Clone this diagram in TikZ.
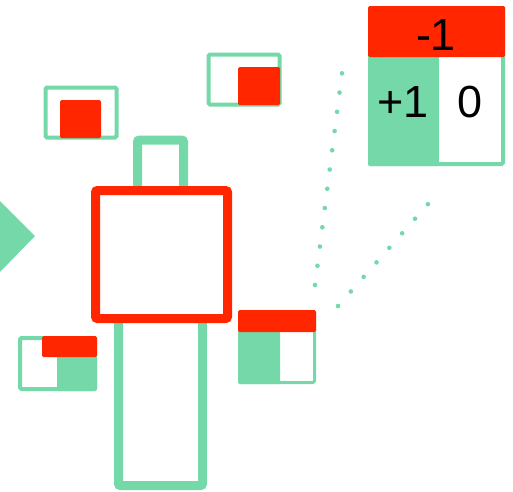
\documentclass[tikz,border=0pt]{standalone}
\usepackage{fontspec}
\setmainfont{Liberation Sans}
\definecolor{mint}{RGB}{116,216,168}
\definecolor{hot}{RGB}{255,38,0}
\begin{document}
\begin{tikzpicture}[x=1pt,y=-1pt,
  thickbox/.style={draw=#1, line width=9pt, rounded corners=2pt, inner sep=0pt, outer sep=0pt},
  thinbox/.style={draw=mint, line width=4pt, rounded corners=1.5pt, inner sep=0pt, outer sep=0pt},
  patch/.style={fill=#1, rounded corners=1.5pt},
  num/.style={font=\fontsize{45}{45}\selectfont, inner sep=0pt, anchor=base},
  dots/.style={draw=mint, line width=4.6pt, line cap=round, dash pattern=on 0pt off 19.4pt}
]
\useasboundingbox (0,0) rectangle (513,491);

% left triangle
\fill[mint] (0,201) -- (35,236) -- (0,272) -- cycle;

% body
\node[thickbox=mint, minimum width=46pt, minimum height=52pt] (head) at (160.5,166) {};
\node[thickbox=mint, minimum width=84pt, minimum height=171pt] (legs) at (160.5,400) {};
\node[thickbox=hot, fill=white, minimum width=132pt, minimum height=128pt] (torso) at (161.5,254.5) {};

% upper-left small box
\node[thinbox, minimum width=71pt, minimum height=50pt] (ul) at (81,112.5) {};
\fill[patch=hot] (60,100) rectangle (101,138);

% upper-right small box
\node[thinbox, minimum width=71pt, minimum height=50pt] (ur) at (244,79.5) {};
\fill[patch=hot] (238,67) rectangle (280,105);

% lower-left small box
\node[thinbox, minimum width=75pt, minimum height=51pt] (ll) at (57.5,363.5) {};
\fill[patch=mint] (57,355) rectangle (97,391);
\fill[patch=hot] (42,336) rectangle (97,357);

% right small box (mini table)
\node[thinbox, line width=3pt, minimum width=75pt, minimum height=71pt] (mini) at (277,347) {};
\fill[patch=mint] (238,330) rectangle (280,384);
\fill[patch=hot] (238,310) rectangle (316,332);

% big table
\node[thinbox, line width=4pt, minimum width=133pt, minimum height=156pt] (table) at (436.5,86) {};
\fill[patch=mint] (368,55) rectangle (439,166);
\fill[patch=hot] (368,6) rectangle (505,57);
\node[num] (hdr) at (436,50) {-1};
\node[num] (plus) at (403,117) {+1};
\node[num] (zero) at (470,117) {0};

% callout dots
\coordinate (d1a) at (315,285);
\coordinate (d1b) at (342,73);
\coordinate (d2a) at (338,306);
\coordinate (d2b) at (428,204);
\draw[dots] (d1a) -- (d1b);
\draw[dots] (d2a) -- (d2b);
\end{tikzpicture}
\end{document}
